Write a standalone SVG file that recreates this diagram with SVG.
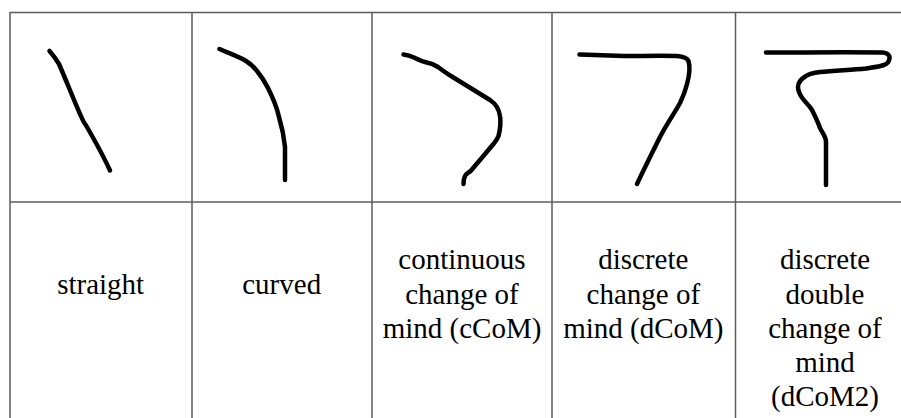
<svg xmlns="http://www.w3.org/2000/svg" width="901" height="418" viewBox="0 0 901 418">
<style>
.grid{stroke:#5c5c5c;stroke-width:1.5;fill:none}
.ink{stroke:#000;stroke-width:4.5;fill:none;stroke-linecap:round;stroke-linejoin:round}
.lbl{font-family:"Liberation Serif","Times New Roman",serif;font-size:29px;fill:#000;text-anchor:middle}
</style>
<rect width="901" height="418" fill="#fff"/>
<g id="table-grid">
<line class="grid" x1="10" y1="12.5" x2="901" y2="12.5"/>
<line class="grid" x1="10" y1="202" x2="901" y2="202"/>
<line class="grid" x1="10" y1="12" x2="10" y2="418"/>
<line class="grid" x1="192" y1="12" x2="192" y2="418"/>
<line class="grid" x1="372" y1="12" x2="372" y2="418"/>
<line class="grid" x1="552" y1="12" x2="552" y2="418"/>
<line class="grid" x1="735.5" y1="12" x2="735.5" y2="418"/>
</g>
<g id="straight">
<path class="ink" d="M49.5 51 C53 55 56 59 59 64 C66 80 73 98 80 114 C82 119 84 123 87 127 C95 141 103 155 110 170.5"/>
<text class="lbl" x="100.7" y="294.3">straight</text>
</g>
<g id="curved">
<path class="ink" d="M219.5 49 C228 53 238 56 246 61 C251 64 254 67 257 71 C262 77 265 82 268 88 C273 98 277 108 279 117 C282 127 284 137 285 147 L285 180"/>
<text class="lbl" x="281.7" y="294.3">curved</text>
</g>
<g id="cCoM">
<path class="ink" d="M403.5 54.5 C408 55 411 56 414 57.5 C418 59.5 421 61 425 62 C430 63 434 64.5 438 67 C442 70 446 73 451 76 C464 84 477 92 490 100 C496 104 499 109 500 116 C501 122 500 130 498.5 136 C497 140 495 142 493 144.5 C486 153 478 162 471.5 170 C469 173 466 173.5 465 176 C463.5 179 463.5 182 463.5 184"/>
<text class="lbl" x="462" y="269.3">continuous</text>
<text class="lbl" x="462" y="303.5">change of</text>
<text class="lbl" x="462" y="337.7">mind (cCoM)</text>
</g>
<g id="dCoM">
<path class="ink" d="M579.5 54.5 C595 55 610 55.5 624 56 C642 56 660 55.5 677 56 C683 56.5 687 58 688.5 61 C690 66 689.5 75 687 84 C685 92 683 97 680 103 C674 114 666 125 660 137 C652 153 644 169 637 184"/>
<text class="lbl" x="643.3" y="269.3">discrete</text>
<text class="lbl" x="643.3" y="303.5">change of</text>
<text class="lbl" x="643.3" y="337.7">mind (dCoM)</text>
</g>
<g id="dCoM2">
<path class="ink" d="M766 52.5 C805 52.5 845 52 883 52.5 C888 53 890 55.5 889.5 58.5 C889 62 887 64 884 65 C878 67 872 67.5 866 68.5 C850 70 835 70.5 820 72 C813 73 809 74 806 76 C801 79 798 82 798 87 C798 92 800 95 803 99 C806 103 810 106 812 110 C815 116 818 122 820 128 C823 134 826 137 826 142 L826 185"/>
<text class="lbl" x="825" y="269.3">discrete</text>
<text class="lbl" x="825" y="303.5">double</text>
<text class="lbl" x="825" y="337.7">change of</text>
<text class="lbl" x="825" y="371.9">mind</text>
<text class="lbl" x="825" y="406">(dCoM2)</text>
</g>
</svg>
